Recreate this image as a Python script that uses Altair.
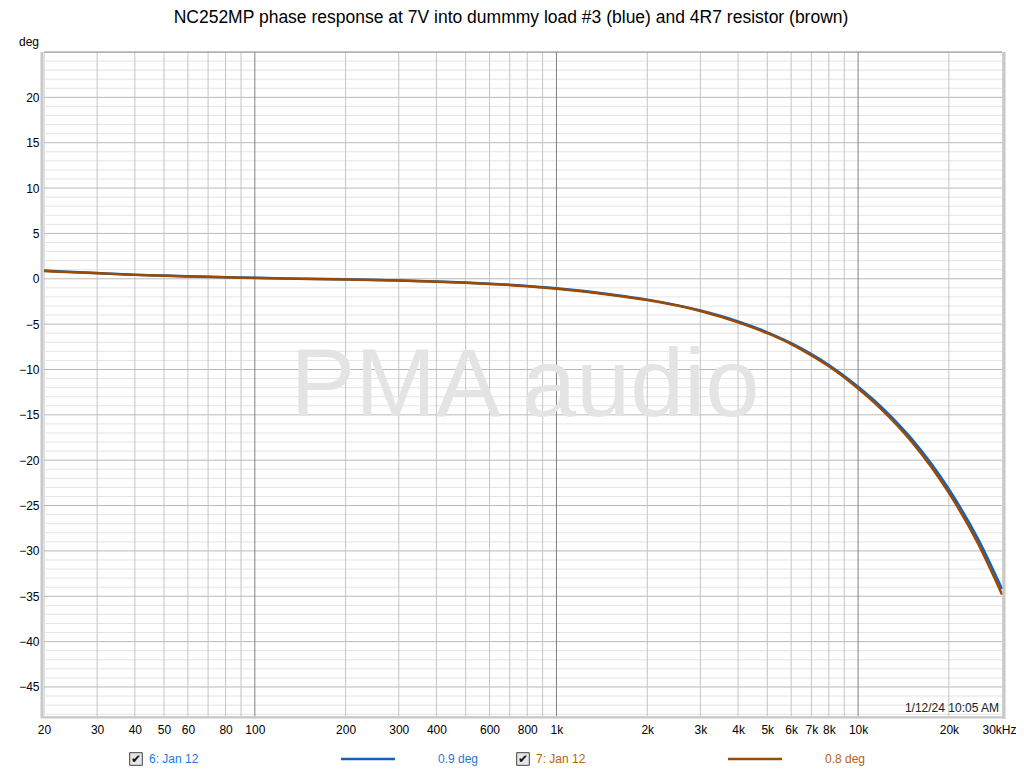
import altair as alt
import pandas as pd

# ---- data ----
freq = [20, 25, 30, 40, 50, 60, 80, 100, 150, 200, 300, 400, 500, 600, 800,
        1000, 1500, 2000, 3000, 4000, 5000, 6000, 7000, 8000, 10000, 12000,
        15000, 20000, 25000, 30000]
blue_deg = [0.9, 0.75, 0.63, 0.45, 0.35, 0.28, 0.18, 0.1, 0.0, -0.06, -0.18,
            -0.3, -0.42, -0.54, -0.8, -1.05, -1.7, -2.3, -3.5, -4.7, -5.9,
            -7.1, -8.3, -9.5, -11.9, -14.2, -17.6, -23.2, -28.7, -34.2]
brown_deg = [0.85, 0.72, 0.6, 0.43, 0.33, 0.26, 0.16, 0.08, -0.02, -0.08, -0.2,
             -0.32, -0.45, -0.57, -0.83, -1.1, -1.75, -2.35, -3.55, -4.8, -6.0,
             -7.2, -8.45, -9.65, -12.1, -14.45, -17.9, -23.6, -29.2, -34.8]

x_label_vals = [20, 30, 40, 50, 60, 80, 100, 200, 300, 400, 600, 800, 1000,
                2000, 3000, 4000, 5000, 6000, 7000, 8000, 10000, 20000, 30000]
x_label_text = ["20", "30", "40", "50", "60", "80", "100", "200", "300", "400",
                "600", "800", "1k", "2k", "3k", "4k", "5k", "6k", "7k", "8k",
                "10k", "20k", "30kHz"]
x_minor = [30, 40, 50, 60, 70, 80, 90, 200, 300, 400, 500, 600, 700, 800, 900,
           2000, 3000, 4000, 5000, 6000, 7000, 8000, 9000, 20000]
x_major = [100, 1000, 10000]
y_major = [-45, -40, -35, -30, -25, -20, -15, -10, -5, 0, 5, 10, 15, 20]
y_minor = [v for v in range(-48, 26) if v % 5 != 0]

title_text = "NC252MP phase response at 7V into dummmy load #3 (blue) and 4R7 resistor (brown)"

W, H = 958, 664
BLUE, BROWN = "#0a64c8", "#9c4a00"
BLUE_T, BROWN_T = "#1e78e0", "#b8620a"
FONT = "Liberation Sans"

xs = alt.Scale(type="log", domain=[20, 30000], nice=False)
ys = alt.Scale(domain=[-48.2, 25], nice=False, zero=False)

label_expr = "{" + ",".join(f"'{v}':'{t}'" for v, t in zip(x_label_vals, x_label_text)) + "}[datum.value]"

XAXIS = alt.Axis(values=x_label_vals, labelExpr=label_expr, title=None,
                 grid=False, domain=False, ticks=False, labelPadding=8,
                 labelFontSize=12, labelFont=FONT, labelColor="#000",
                 labelFlush=False, labelOverlap=False,
                 labelAlign={"expr": "datum.value >= 30000 ? 'right' : 'center'"},
                 labelOffset={"expr": "datum.value >= 30000 ? 14 : 0"})
YAXIS = alt.Axis(values=y_major, title=None, grid=False, domain=False,
                 ticks=False, labelPadding=5, labelFontSize=12,
                 labelFont=FONT, labelColor="#000")

curves = pd.DataFrame({
    "f": freq * 2,
    "deg": blue_deg + brown_deg,
    "s": ["blue"] * len(freq) + ["brown"] * len(freq),
    "o": [0] * len(freq) + [1] * len(freq),
})

ymin = alt.Chart(pd.DataFrame({"v": y_minor})).mark_rule(color="#e4e4e4", strokeWidth=1).encode(
    y=alt.Y("v:Q", scale=ys, axis=YAXIS))
ymaj = alt.Chart(pd.DataFrame({"v": y_major})).mark_rule(color="#b8b8b8", strokeWidth=1).encode(
    y=alt.Y("v:Q", scale=ys, axis=YAXIS))
xmin = alt.Chart(pd.DataFrame({"v": x_minor})).mark_rule(color="#c4c4c4", strokeWidth=1).encode(
    x=alt.X("v:Q", scale=xs, axis=XAXIS))
xmaj = alt.Chart(pd.DataFrame({"v": x_major})).mark_rule(color="#808080", strokeWidth=1).encode(
    x=alt.X("v:Q", scale=xs, axis=XAXIS))

watermark = alt.Chart(pd.DataFrame({"t": ["PMA audio"]})).mark_text(
    font=FONT, fontSize=97, color="#e4e4e4", align="center", baseline="alphabetic").encode(
    text="t:N", x=alt.value(481), y=alt.value(364))

lines = alt.Chart(curves).mark_line(strokeWidth=2.5, interpolate="monotone").encode(
    x=alt.X("f:Q", scale=xs, axis=XAXIS),
    y=alt.Y("deg:Q", scale=ys, axis=YAXIS),
    color=alt.Color("s:N", scale=alt.Scale(domain=["blue", "brown"], range=[BLUE, BROWN]), legend=None),
    detail="s:N",
    order="o:Q",
)

def txt(t, x, y, size=12, color="#000", align="left", baseline="middle"):
    return alt.Chart(pd.DataFrame({"t": [t]})).mark_text(
        font=FONT, fontSize=size, color=color, align=align, baseline=baseline).encode(
        text="t:N", x=alt.value(x), y=alt.value(y))

def seg(x1, x2, y, color):
    return alt.Chart(pd.DataFrame({"a": [0]})).mark_rule(color=color, strokeWidth=2.5).encode(
        x=alt.value(x1), x2=alt.value(x2), y=alt.value(y))

def band(x1, x2, y1, y2, color, w):
    if x2 is None:
        enc = dict(x=alt.value(x1), y=alt.value(y1), y2=alt.value(y2))
    else:
        enc = dict(x=alt.value(x1), x2=alt.value(x2), y=alt.value(y1))
    return alt.Chart(pd.DataFrame({"a": [0]})).mark_rule(color=color, strokeWidth=w).encode(**enc)

def checkbox(x, y):
    box = alt.Chart(pd.DataFrame({"a": [0]})).mark_square(
        size=160, fill="#e6e6e6", stroke="#444", strokeWidth=1, opacity=1).encode(
        x=alt.value(x), y=alt.value(y))
    tick = alt.Chart(pd.DataFrame({"t": ["✔"]})).mark_text(
        font="DejaVu Sans", fontSize=12, color="#111", align="center",
        baseline="middle").encode(text="t:N", x=alt.value(x), y=alt.value(y))
    return box + tick

LY = 707
chart = alt.layer(
    ymin, ymaj, xmin, xmaj, watermark, lines,
    band(-2, None, 0, H + 2, "#c8c8c8", 3),
    band(W + 2, None, 0, H + 3, "#c8c8c8", 3),
    band(-3, W + 3, H + 1.5, None, "#c8c8c8", 2),
    band(0, W, 0, None, "#8a8a8a", 1),
    txt("1/12/24 10:05 AM", 955, 656, size=12, color="#222", align="right"),
    txt(title_text, 467, -34, size=17.5, align="center"),
    txt("deg", -5, -10, size=12, align="right"),
    checkbox(92, LY), txt("6: Jan 12", 105, LY, color=BLUE_T),
    seg(297, 351, LY, BLUE), txt("0.9 deg", 394, LY, color=BLUE_T),
    checkbox(479, LY), txt("7: Jan 12", 492, LY, color=BROWN_T),
    seg(684, 738, LY, BROWN), txt("0.8 deg", 781, LY, color=BROWN_T),
).properties(
    width=W, height=H,
    autosize=alt.AutoSizeParams(type="none"),
    padding={"left": 36, "top": 44, "right": 14, "bottom": 50},
).configure_view(stroke="#999999", strokeWidth=1).configure(background="white")

chart.save("out.html", embed_options={"renderer": "svg", "actions": False})
